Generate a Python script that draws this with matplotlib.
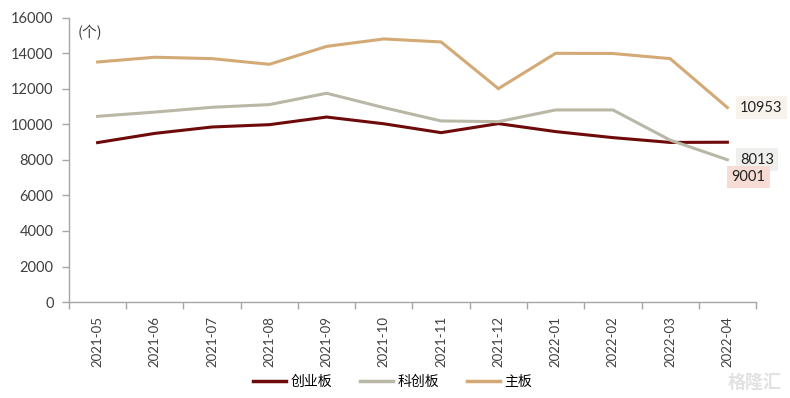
import matplotlib
matplotlib.use("Agg")
import matplotlib.pyplot as plt
from matplotlib.lines import Line2D

months = ["2021-05", "2021-06", "2021-07", "2021-08", "2021-09", "2021-10",
          "2021-11", "2021-12", "2022-01", "2022-02", "2022-03", "2022-04"]
chuangye = [8980, 9500, 9860, 9990, 10420, 10040, 9540, 10050, 9600, 9260, 8990, 9001]
kechuang = [10460, 10700, 10970, 11120, 11760, 10950, 10200, 10160, 10820, 10820, 9120, 8013]
zhuban = [13520, 13790, 13710, 13390, 14400, 14820, 14650, 12020, 14010, 14000, 13710, 10953]
series_names = ["创业板", "科创板", "主板"]
yticks = [0, 2000, 4000, 6000, 8000, 10000, 12000, 14000, 16000]

colors = ["#6e0a0a", "#b9b8a6", "#d3aa76"]
label_bg = ["#f6dcd4", "#efefee", "#f7f3ec"]

plt.rcParams['font.family'] = ['Lato', 'Noto Sans CJK SC', 'DejaVu Sans']
fig = plt.figure(figsize=(7.9, 3.98), dpi=100)
ax = fig.add_axes([0.0873, 0.2412, 0.957 - 0.0873, 0.9548 - 0.2412])

x = list(range(len(months)))
for vals, c in zip([chuangye, kechuang, zhuban], colors):
    ax.plot(x, vals, color=c, lw=2.2, solid_joinstyle='miter')

ax.set_xlim(-0.5, len(months) - 0.5)
ax.set_ylim(0, 16000)
ax.set_yticks(yticks)
ax.set_yticklabels([str(v) for v in yticks], fontsize=10.5, color="#404040")
ax.set_xticks(x)
ax.set_xticklabels(months, rotation=90, fontsize=9.5, color="#404040")
ax.tick_params(axis='x', which='major', length=0, pad=10)
ax.set_xticks([i - 0.5 for i in range(len(months) + 1)], minor=True)
ax.tick_params(axis='x', which='minor', length=5, color="#a6a6a6", width=1)
ax.tick_params(axis='y', length=5, color="#a6a6a6", width=1, pad=6)
for s in ["top", "right"]:
    ax.spines[s].set_visible(False)
for s in ["left", "bottom"]:
    ax.spines[s].set_color("#a6a6a6")
    ax.spines[s].set_linewidth(1)

ax.text(0.012, 0.975, "(个)", transform=ax.transAxes, fontsize=10.5,
        family=['Noto Sans CJK SC'], color="#404040", va='top', ha='left')

# end labels
last = len(months) - 1
ax.annotate(str(zhuban[-1]), (last, zhuban[-1]), xytext=(9, 0), textcoords='offset points',
            fontsize=10.5, color="#222222", va='center', ha='left',
            bbox=dict(boxstyle='square,pad=0.3', fc=label_bg[2], ec='none'))
ax.annotate(str(kechuang[-1]), (last, kechuang[-1]), xytext=(9, 0), textcoords='offset points',
            fontsize=10.5, color="#222222", va='center', ha='left',
            bbox=dict(boxstyle='square,pad=0.3', fc=label_bg[1], ec='none'))
ax.annotate(str(chuangye[-1]), (last, chuangye[-1]), xytext=(3, -25), textcoords='offset points',
            fontsize=10.5, color="#222222", va='center', ha='left',
            bbox=dict(boxstyle='square,pad=0.3', fc=label_bg[0], ec='none'))

handles = [Line2D([0], [0], color=c, lw=2.5) for c in colors]
fig.legend(handles, series_names, loc='center', bbox_to_anchor=(0.497, 0.04), ncol=3,
           frameon=False, handlelength=2.4, handletextpad=0.3,
           columnspacing=2.0, prop={'family': ['Noto Sans CJK SC'], 'size': 10})

fig.text(0.99, 0.04, "格隆汇", fontsize=13, color="#e2e2e2", family=['Noto Sans CJK SC'],
         ha='right', va='center', fontweight='bold')

fig.savefig("out.png", dpi=100)
